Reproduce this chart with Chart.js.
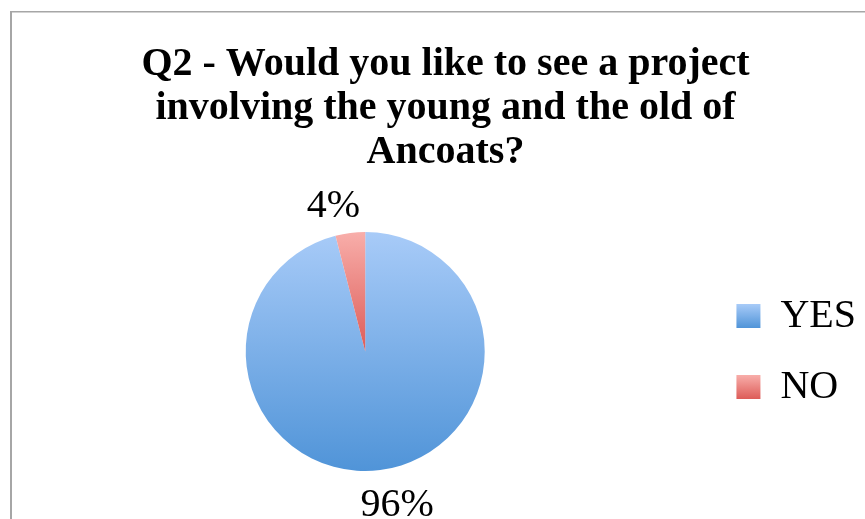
<!DOCTYPE html>
<html><head><meta charset="utf-8">
<script src="https://cdn.jsdelivr.net/npm/chart.js@4"></script>
<style>html,body{margin:0;padding:0;background:#fff}#wrap{position:relative;width:865px;height:519px}</style>
</head><body><div id="wrap"><canvas id="c" width="865" height="519"></canvas></div>
<script>
// ---- data ----
const titleLines = ['Q2 - Would you like to see a project', 'involving the young and the old of', 'Ancoats?'];
const categories = ['YES', 'NO'];
const percentages = [96, 4];
const percentLabels = ['96%', '4%'];

// ---- styles ----
const topColors = ['#a8cbf8', '#f8aeaa'];
const bottomColors = ['#5094d8', '#dd5c58'];
const serif = "'Liberation Serif', 'Times New Roman', serif";

function sliceGeometry(chart, vals, i) {
  const ca = chart.chartArea;
  const cx = (ca.left + ca.right) / 2, cy = (ca.top + ca.bottom) / 2;
  const r = Math.min(ca.right - ca.left, ca.bottom - ca.top) / 2;
  const total = vals.reduce((a, b) => a + b, 0);
  let a0 = -Math.PI / 2;
  for (let k = 0; k < i; k++) a0 += vals[k] / total * 2 * Math.PI;
  const a1 = a0 + vals[i] / total * 2 * Math.PI;
  let ymin = cy, ymax = cy;
  const pts = [a0, a1];
  [-Math.PI / 2, Math.PI / 2, 3 * Math.PI / 2, 5 * Math.PI / 2].forEach(t => { if (t >= a0 - 1e-9 && t <= a1 + 1e-9) pts.push(t); });
  pts.forEach(t => { const y = cy + r * Math.sin(t); ymin = Math.min(ymin, y); ymax = Math.max(ymax, y); });
  return {ymin, ymax};
}

function sliceGradient(context) {
  const chart = context.chart, i = context.dataIndex;
  if (!chart.chartArea) return bottomColors[i];
  const g = sliceGeometry(chart, context.dataset.data, i);
  const grad = chart.ctx.createLinearGradient(0, g.ymin, 0, g.ymax);
  grad.addColorStop(0, topColors[i]);
  grad.addColorStop(1, bottomColors[i]);
  return grad;
}

const frame = {
  id: 'frame',
  beforeDraw(chart) {
    const ctx = chart.ctx;
    ctx.save();
    ctx.fillStyle = '#a6a6a6';
    ctx.fillRect(10, 11, 2, 508);
    ctx.fillRect(10, 11, 855, 1.5);
    ctx.restore();
    // gradient legend boxes
    const lg = chart.legend;
    if (lg && lg.legendItems && lg.legendHitBoxes) {
      const fs = lg.options.labels.font.size || 40;
      const bh = lg.options.labels.boxHeight;
      lg.legendItems.forEach((item, i) => {
        const hb = lg.legendHitBoxes[i];
        if (!hb) return;
        const top = hb.top + Math.max((fs - bh) / 2, 0);
        const grad = ctx.createLinearGradient(0, top, 0, top + bh);
        grad.addColorStop(0, topColors[i]);
        grad.addColorStop(1, bottomColors[i]);
        item.fillStyle = grad;
      });
    }
  }
};

const sliceLabels = {
  id: 'sliceLabels',
  afterDatasetsDraw(chart) {
    const ctx = chart.ctx;
    const meta = chart.getDatasetMeta(0);
    ctx.save();
    ctx.font = '40px ' + serif;
    ctx.fillStyle = '#000';
    ctx.textAlign = 'center';
    ctx.textBaseline = 'middle';
    meta.data.forEach((arc, i) => {
      const mid = (arc.startAngle + arc.endAngle) / 2;
      const d = arc.outerRadius + 31;
      const c = Math.cos(mid), s = Math.sin(mid);
      const x = arc.x + c * d + Math.sign(c) * 13;
      const y = arc.y + s * d + 4.5;
      ctx.fillText(percentLabels[i], x, y);
    });
    ctx.restore();
  }
};

new Chart(document.getElementById('c'), {
  type: 'pie',
  data: {
    labels: categories,
    datasets: [{
      data: percentages,
      backgroundColor: sliceGradient,
      borderWidth: 0,
      hoverOffset: 0,
      offset: 0
    }]
  },
  options: {
    responsive: false,
    animation: false,
    devicePixelRatio: 1,
    layout: {padding: {left: 25, right: -1, top: 0, bottom: 48}},
    plugins: {
      title: {
        display: true,
        text: titleLines,
        color: '#000',
        font: {family: serif, size: 40, weight: 'bold', lineHeight: 44 / 40},
        padding: {top: 43, bottom: 57}
      },
      legend: {
        position: 'right',
        fullSize: false,
        labels: {
          color: '#000',
          font: {family: serif, size: 40},
          boxWidth: 24,
          boxHeight: 24,
          padding: 31
        }
      },
      tooltip: {enabled: false}
    }
  },
  plugins: [frame, sliceLabels]
});
</script>
</body></html>
